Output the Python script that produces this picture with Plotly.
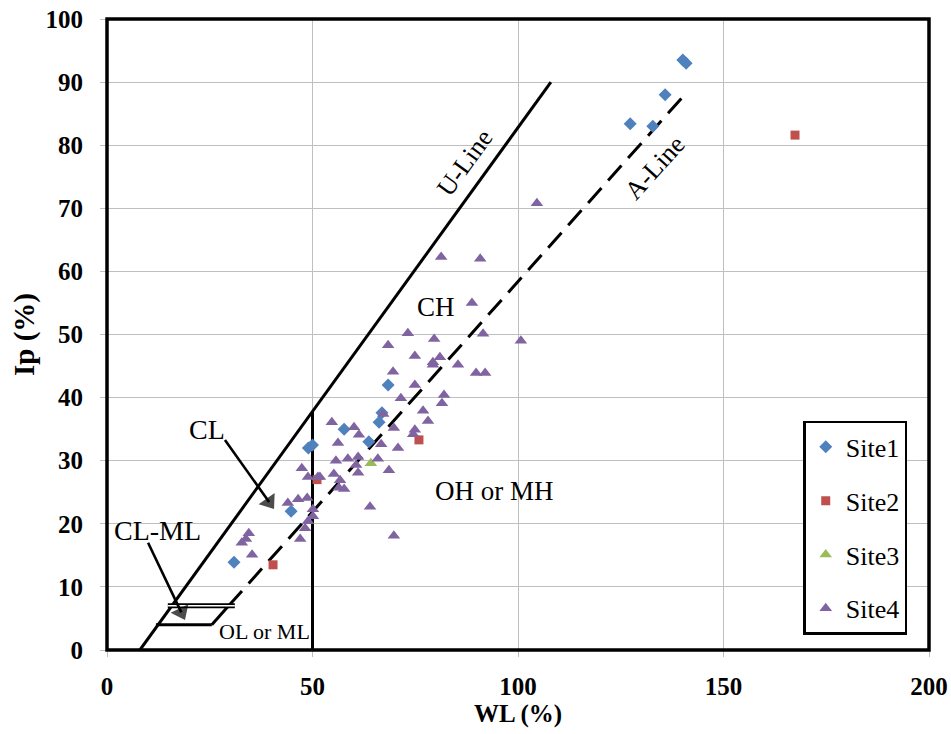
import plotly.graph_objects as go

# ---- data ----
site1_wl = [30.9, 44.8, 49.0, 50.0, 57.7, 63.7, 66.2, 66.9, 68.4, 127.3, 132.8, 135.8, 140.1, 140.9]
site1_ip = [13.9, 22.0, 32.0, 32.5, 35.0, 33.0, 36.1, 37.6, 42.0, 83.4, 83.0, 88.0, 93.5, 93.0]

site2_wl = [40.4, 51.1, 75.9, 167.4]
site2_ip = [13.5, 27.0, 33.3, 81.6]

site3_wl = [64.2]
site3_ip = [29.6]

site4_wl = [34.5, 33.8, 32.8, 35.3, 44.0, 46.5, 48.7, 47.0, 48.2, 48.9, 50.1, 50.1, 47.4, 48.9,
            51.3, 51.8, 55.2, 56.7, 56.4, 57.7, 55.7, 56.2, 54.7, 58.6, 61.1, 65.9, 60.6, 61.1,
            68.6, 64.0, 69.8, 60.1, 61.3, 66.7, 70.8, 69.8, 74.9, 74.5, 67.2, 76.9, 78.1, 71.5,
            81.5, 82.0, 74.9, 69.6, 89.8, 92.0, 85.4, 79.3, 79.3, 81.0, 74.9, 68.4, 73.2, 79.6,
            91.5, 88.8, 100.7, 81.3, 90.8, 104.6]
site4_ip = [18.5, 17.6, 17.0, 15.1, 23.3, 23.9, 24.1, 17.6, 19.3, 20.4, 21.2, 22.3, 28.8, 27.4,
            27.4, 27.4, 27.9, 26.9, 25.7, 25.5, 30.0, 32.8, 36.1, 30.3, 30.6, 30.3, 29.3, 28.1,
            28.5, 22.7, 18.1, 35.3, 34.1, 32.6, 32.0, 35.2, 34.9, 34.2, 37.4, 37.9, 36.3, 39.9,
            39.1, 40.4, 42.0, 44.1, 43.9, 43.9, 45.2, 45.6, 45.2, 46.4, 46.6, 48.3, 50.2, 49.3,
            50.1, 55.0, 49.0, 62.3, 62.0, 70.8]

# Casagrande chart reference lines (WL, Ip)
u_line_wl = [8, 108]
u_line_ip = [0, 90]
a_line_wl = [29.6, 140]
a_line_ip = [7, 87.6]
a_line_low_wl = [25.5, 29.6]
a_line_low_ip = [4, 7]
wl50_wl = [50, 50]
wl50_ip = [0, 37.8]
clml_top_wl = [14.8, 31.1]
clml_top_ip = [7, 7]
clml_bot_wl = [11.9, 25.5]
clml_bot_ip = [4, 4]

# label arrows (tail -> head)
cl_arrow_wl = [28.7, 39.44]
cl_arrow_ip = [33.3, 23.44]
clml_arrow_wl = [10.0, 18.08]
clml_arrow_ip = [17.0, 5.97]

x_ticks = [0, 50, 100, 150, 200]
y_ticks = [0, 10, 20, 30, 40, 50, 60, 70, 80, 90, 100]

FONT = "Liberation Serif"

fig = go.Figure()

def add_line(xs, ys, width=3, dash="solid", color="black"):
    fig.add_trace(go.Scatter(x=xs, y=ys, mode="lines", showlegend=False, hoverinfo="skip",
                             line=dict(color=color, width=width, dash=dash)))

add_line(u_line_wl, u_line_ip, 3)
add_line(a_line_wl, a_line_ip, 3, dash="20px,10px")
add_line(a_line_low_wl, a_line_low_ip, 3)
add_line(wl50_wl, wl50_ip, 3)
add_line(clml_bot_wl, clml_bot_ip, 3)
add_line(clml_top_wl, clml_top_ip, 5)
add_line(clml_top_wl, clml_top_ip, 1.5, color="white")

for xs, ys in [(cl_arrow_wl, cl_arrow_ip), (clml_arrow_wl, clml_arrow_ip)]:
    fig.add_trace(go.Scatter(x=xs, y=ys, mode="lines+markers", showlegend=False, hoverinfo="skip",
                             line=dict(color="black", width=2.6),
                             marker=dict(symbol="triangle-up", size=[0, 17], color="black",
                                         angleref="previous", line=dict(width=0))))

fig.add_trace(go.Scatter(x=site1_wl, y=site1_ip, mode="markers", name="Site1", legendgroup="1",
                         marker=dict(symbol="diamond", size=10, color="#4F81BD")))
fig.add_trace(go.Scatter(x=site2_wl, y=site2_ip, mode="markers", name="Site2", legendgroup="2",
                         marker=dict(symbol="square", size=9, color="#C0504D")))
fig.add_trace(go.Scatter(x=site3_wl, y=site3_ip, mode="markers", name="Site3", legendgroup="3",
                         marker=dict(symbol="triangle-up", size=11, color="#9BBB59")))
fig.add_trace(go.Scatter(x=site4_wl, y=site4_ip, mode="markers", name="Site4", legendgroup="4",
                         marker=dict(symbol="triangle-up", size=11, color="#8064A2")))

annotations = [
    dict(x=24.3, y=34.9, text="CL", font=dict(size=28)),
    dict(x=12.2, y=19.0, text="CL-ML", font=dict(size=28)),
    dict(x=38.3, y=2.9, text="OL or ML", font=dict(size=22)),
    dict(x=80.0, y=54.4, text="CH", font=dict(size=27)),
    dict(x=94.2, y=25.2, text="OH or MH", font=dict(size=27)),
    dict(x=87.1, y=77.3, text="U-Line", font=dict(size=26), textangle=-54),
    dict(x=133.3, y=76.5, text="A-Line", font=dict(size=26), textangle=-48),
]
for a in annotations:
    fig.add_annotation(xref="x", yref="y", showarrow=False, **a)

# plot-area frame
fig.add_shape(type="rect", xref="paper", yref="paper", x0=0, y0=0, x1=1, y1=1,
              line=dict(color="black", width=3.5), layer="above")

fig.update_layout(
    width=951, height=734,
    margin=dict(l=107, r=22, t=19, b=84),
    paper_bgcolor="white", plot_bgcolor="white",
    font=dict(family=FONT, color="black"),
    legend=dict(x=0.847, y=0.363, xanchor="left", yanchor="top",
                bordercolor="black", borderwidth=2.5, bgcolor="white",
                font=dict(size=26, family=FONT), tracegroupgap=17,
                traceorder="grouped", itemwidth=30),
    xaxis=dict(range=[0, 200], tickvals=x_ticks, ticktext=["<b>%d</b>" % v for v in x_ticks],
               showgrid=True, gridcolor="#BFBFBF", gridwidth=1,
               zeroline=False, ticks="outside", ticklen=6, tickcolor="#BFBFBF",
               tickfont=dict(size=25, family=FONT), ticklabelstandoff=8,
               title=dict(text="<b>WL (%)</b>", font=dict(size=25, family=FONT), standoff=4),
               automargin=False),
    yaxis=dict(range=[0, 100], tickvals=y_ticks, ticktext=["<b>%d</b>" % v for v in y_ticks],
               showgrid=True, gridcolor="#BFBFBF", gridwidth=1,
               zeroline=False, ticks="outside", ticklen=6, tickcolor="#BFBFBF",
               tickfont=dict(size=25, family=FONT), ticklabelstandoff=12,
               title=dict(text="<b>Ip (%)</b>", font=dict(size=29, family=FONT), standoff=2),
               automargin=False),
)

fig.write_html("out.html")
